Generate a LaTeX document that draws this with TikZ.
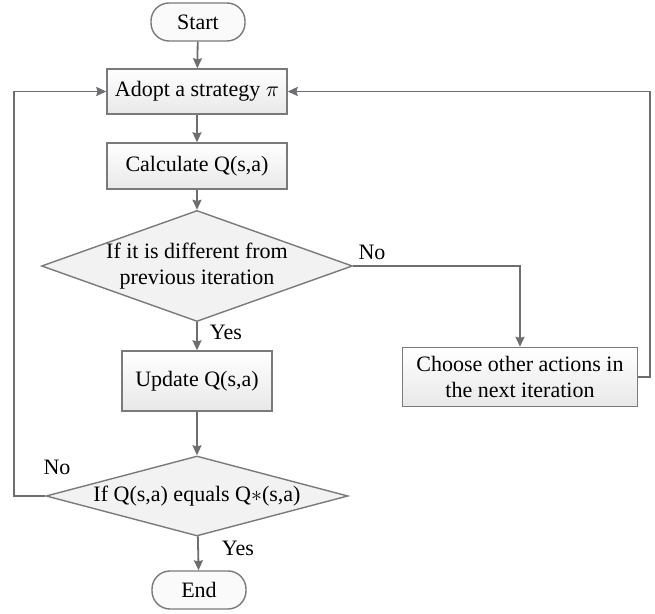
\documentclass[tikz,border=0pt]{standalone}
\usepackage{fontspec}
\setmainfont{Liberation Serif}
\usetikzlibrary{shapes.geometric, arrows.meta}
\definecolor{linegray}{HTML}{6D6E71}
\definecolor{edgegray}{HTML}{7A7A7A}

\begin{document}
\begin{tikzpicture}[x=0.5pt, y=-0.5pt,
	font=\fontsize{11}{13}\selectfont,
	proc/.style={rectangle, draw=edgegray, line width=0.7pt, top color=white, bottom color=gray!18, minimum width=90pt, minimum height=22.5pt, inner sep=2pt, align=center},
	term/.style={rectangle, rounded corners=9pt, draw=edgegray, line width=0.7pt, fill=gray!4, minimum width=47pt, minimum height=19pt},
	dec/.style={diamond, draw=edgegray, line width=0.7pt, fill=gray!10, inner sep=0pt, align=center, minimum width=151pt},
	conn/.style={->, >={Stealth[length=5pt, width=4.5pt, inset=0.6pt]}, draw=linegray, line width=0.9pt}]
	\useasboundingbox (0,0) rectangle (655,614);

	\node[term](start) at (198,22) {Start};
	\node[proc](adopt) at (197,91.5) {Adopt a strategy $\pi$};
	\node[proc, minimum height=23pt](calc) at (197,166) {Calculate Q(s,a)};
	\node[dec, shape aspect=2.8, minimum height=54pt](diff) at (197,266) {If it is different from\\previous iteration};
	\node[proc, minimum width=75pt, minimum height=30pt](update) at (197,381) {Update Q(s,a)};
	\node[dec, shape aspect=3.78, minimum height=40pt](equal) at (197,496) {If Q(s,a) equals Q$\ast$(s,a)};
	\node[term](end) at (199,590) {End};
	\node[proc, minimum width=117.5pt, minimum height=29.5pt, inner sep=1pt](choose) at (520,377) {Choose other actions in\\the next iteration};

	\coordinate(lturn) at (14,91.5);
	\coordinate(rturn) at (650,91.5);

	\node(no1) at (372,252) {No};
	\node(yes1) at (226,332) {Yes};
	\node(no2) at (57,467) {No};
	\node(yes2) at (238,548) {Yes};

	\draw[conn](start) -- (adopt);
	\draw[conn](adopt) -- (calc);
	\draw[conn](calc) -- (diff);
	\draw[conn](diff) -- (update);
	\draw[conn](update) -- (equal);
	\draw[conn](equal) -- (end);
	\draw[conn](diff.east) -| (choose.north);
	\draw[conn](choose.east) -| (rturn) -- (adopt.east);
	\draw[conn](equal.west) -| (lturn) -- (adopt.west);
\end{tikzpicture}
\end{document}
